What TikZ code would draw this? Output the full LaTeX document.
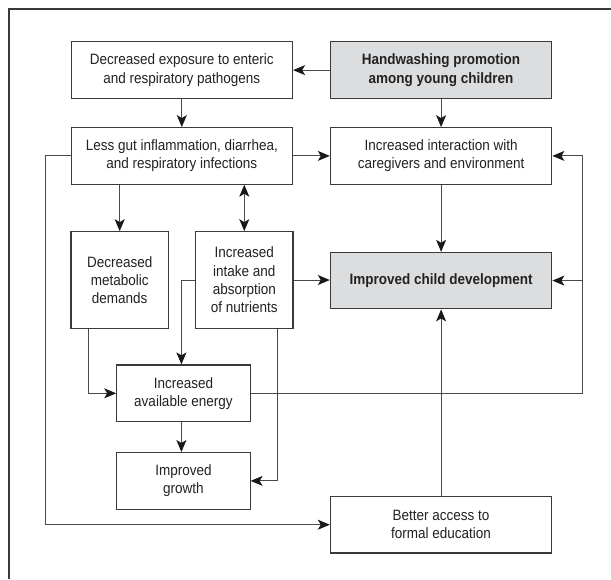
\documentclass[tikz,border=0pt]{standalone}
\usepackage{fontspec}
\setmainfont{Liberation Sans}[FakeStretch=0.9]
\usetikzlibrary{arrows.meta}
\definecolor{boxgray}{HTML}{DCDDDF}
\definecolor{linegray}{HTML}{4A4A4A}
\definecolor{framegray}{HTML}{3A3A3A}
\definecolor{txt}{HTML}{222222}
\begin{document}
\begin{tikzpicture}[x=1pt,y=-1pt,
  box/.style={draw=framegray, line width=1.1pt, fill=white, rectangle, inner sep=0pt,
    align=center, text=txt, font=\fontsize{15}{18.3}\selectfont},
  keybox/.style={box, fill=boxgray, font=\fontsize{15}{18.3}\selectfont\bfseries},
  wide/.style={minimum width=221.5pt, minimum height=56.5pt},
  tall/.style={minimum width=97.4pt, minimum height=96.6pt},
  mid/.style={minimum width=133.3pt, minimum height=56.7pt},
  conn/.style={draw=linegray, line width=1pt, -{Stealth[length=12pt,width=10pt,inset=3pt,color=black!90]}},
  biconn/.style={draw=linegray, line width=1pt, {Stealth[length=12pt,width=10pt,inset=3pt,color=black!90]}-{Stealth[length=12pt,width=10pt,inset=3pt,color=black!90]}}
]
\useasboundingbox (0,0) rectangle (611,579);
% outer frame (top and left edges visible)
\draw[framegray, line width=1.2pt] (9,579) -- (9,9) -- (611,9);

% nodes
\node[box, wide] (A) at (181.8,70.1) {Decreased exposure to enteric\\and respiratory pathogens};
\node[keybox, wide] (H) at (441.1,70.1) {Handwashing promotion\\among young children};
\node[box, wide] (L) at (181.8,155.9) {Less gut inflammation, diarrhea,\\and respiratory infections};
\node[box, wide] (I) at (441.1,155.9) {Increased interaction with\\caregivers and environment};
\node[box, tall] (D) at (119.7,280) {Decreased\\metabolic\\demands};
\node[box, tall] (N) at (244.3,280) {Increased\\intake and\\absorption\\of nutrients};
\node[keybox, wide] (C) at (441.1,280.6) {Improved child development};
\node[box, mid] (E) at (183.4,393.3) {Increased\\available energy};
\node[box, mid] (G) at (183.4,480.9) {Improved\\growth};
\node[box, wide] (B) at (441.1,524.7) {Better access to\\formal education};

% helper coordinates
\coordinate (lc) at (45.6,155.9);
\coordinate (dc) at (88,393.3);
\coordinate (nc) at (277.5,480.9);
\coordinate (rc) at (582.3,393.3);

% connectors
\draw[conn] (H) -- (A);
\draw[conn] (A) -- (L);
\draw[conn] (H) -- (I);
\draw[conn] (L) -- (I);
\draw[conn] (L.west) -- (lc) |- (B.west);
\draw[conn] (L.south -| D.north) -- (D.north);
\draw[biconn] (L.south -| N.north) -- (N.north);
\draw[conn] (I) -- (C);
\draw[conn] (B) -- (C);
\draw[conn] (N.east) -- (N.east -| C.west);
\draw[conn] (N.west) -| ([xshift=-2pt]E.north);
\draw[conn] (D.south -| dc) -- (dc) -- (E.west);
\draw[conn] (N.south -| nc) |- (G.east);
\draw[conn] ([xshift=-2pt]E.south) -- ([xshift=-2pt]G.north);
\draw[conn] (E.east) -- (rc) |- (I.east);
\draw[conn] (rc |- C.east) -- (C.east);
\end{tikzpicture}
\end{document}
